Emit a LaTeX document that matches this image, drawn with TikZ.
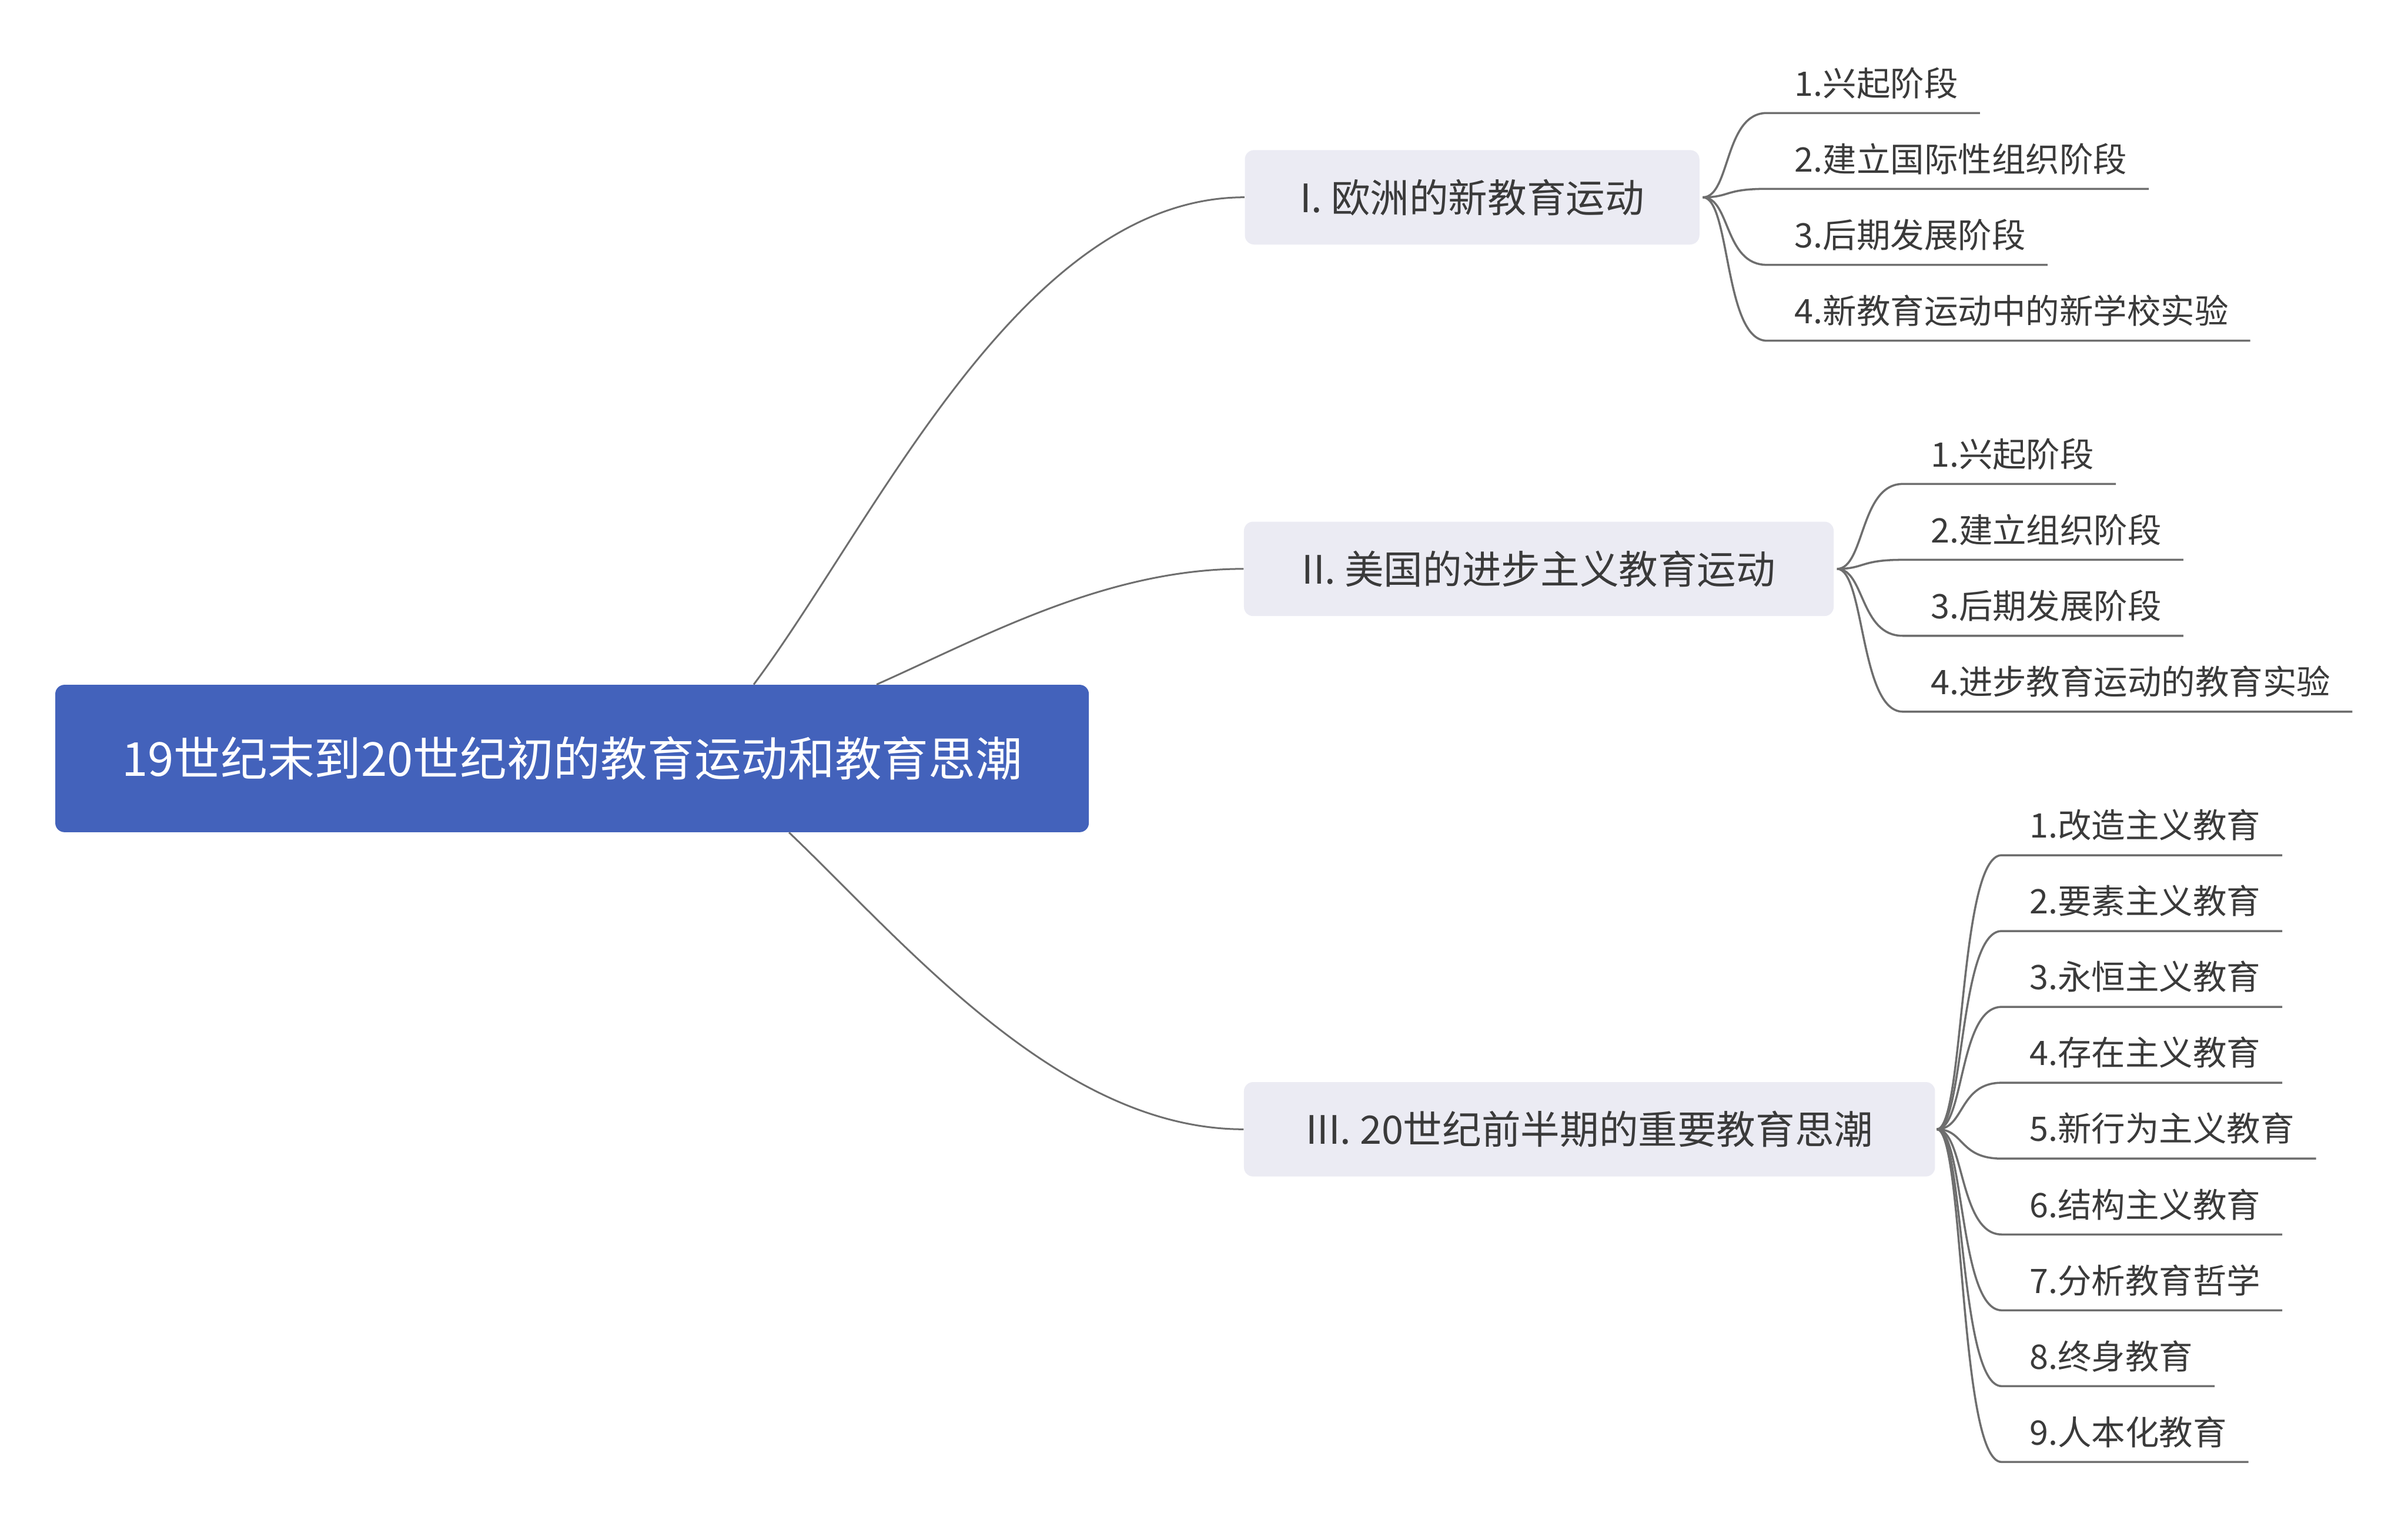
\documentclass[tikz,border=0pt]{standalone}
\usepackage{fontspec}
\setmainfont{Noto Sans CJK SC}
\usetikzlibrary{calc}
\definecolor{rootblue}{RGB}{67,98,187}
\definecolor{branchgray}{RGB}{235,235,243}
\definecolor{linegray}{RGB}{110,110,110}
\definecolor{txtdark}{RGB}{58,58,58}
\newcommand\mmleaf[5]{%
  \coordinate (#4c) at (#3-18,#2);
  \node[leafnode] (#4) at (#3,#2-11.2) {#5};
  \draw[leafline] (#1) .. controls +(18,0) and +(-28,0) .. (#4c) -- ($(#4.east |- #4c)+(14,0)$);
}
\begin{document}
\begin{tikzpicture}[x=1pt,y=-1pt,
  rootnode/.style={rectangle, rounded corners=6pt, fill=rootblue, text=white,
    minimum width=673pt, minimum height=96pt, inner sep=0pt,
    font=\fontsize{30.5}{36}\selectfont},
  branchnode/.style={rectangle, rounded corners=6pt, fill=branchgray, text=txtdark,
    minimum height=61.5pt, inner sep=0pt, font=\fontsize{25.5}{30}\selectfont},
  leafnode/.style={anchor=base west, inner sep=0pt, text=txtdark,
    font=\fontsize{22}{26}\selectfont},
  rootline/.style={draw=linegray, line width=1.15pt},
  leafline/.style={draw=linegray, line width=1.35pt}]
\useasboundingbox (0,0) rectangle (1568,988);

\node[rootnode] (root) at (372.5,494) {19世纪末到20世纪初的教育运动和教育思潮};

\node[branchnode, minimum width=296pt] (b1) at (958.6,128.5) {I. 欧洲的新教育运动};
\node[branchnode, minimum width=384pt] (b2) at (1002,370.5) {II. 美国的进步主义教育运动};
\node[branchnode, minimum width=450pt] (b3) at (1035,735.5) {III. 20世纪前半期的重要教育思潮};

\draw[rootline] ($(root.north west)+(455,0)$) .. controls (570,340) and (665,128.5) .. (b1.west);
\draw[rootline] ($(root.north west)+(535,0)$) .. controls (640,415) and (720,370.5) .. (b2.west);
\draw[rootline] ($(root.south west)+(478,0)$) .. controls (590,615) and (690,735.5) .. (b3.west);

\coordinate (p1) at ($(b1.east)+(2,0)$);
\coordinate (p2) at ($(b2.east)+(2,0)$);
\coordinate (p3) at ($(b3.east)+(1,0)$);

\mmleaf{p1}{73.6}{1168.5}{l11}{1.兴起阶段}
\mmleaf{p1}{123}{1168.5}{l12}{2.建立国际性组织阶段}
\mmleaf{p1}{172.5}{1168.5}{l13}{3.后期发展阶段}
\mmleaf{p1}{221.9}{1168.5}{l14}{4.新教育运动中的新学校实验}

\mmleaf{p2}{315.2}{1257}{l21}{1.兴起阶段}
\mmleaf{p2}{364.6}{1257}{l22}{2.建立组织阶段}
\mmleaf{p2}{414.1}{1257}{l23}{3.后期发展阶段}
\mmleaf{p2}{463.5}{1257}{l24}{4.进步教育运动的教育实验}

\mmleaf{p3}{557}{1321.4}{l31}{1.改造主义教育}
\mmleaf{p3}{606.4}{1321.4}{l32}{2.要素主义教育}
\mmleaf{p3}{655.8}{1321.4}{l33}{3.永恒主义教育}
\mmleaf{p3}{705.2}{1321.4}{l34}{4.存在主义教育}
\mmleaf{p3}{754.6}{1321.4}{l35}{5.新行为主义教育}
\mmleaf{p3}{804}{1321.4}{l36}{6.结构主义教育}
\mmleaf{p3}{853.4}{1321.4}{l37}{7.分析教育哲学}
\mmleaf{p3}{902.8}{1321.4}{l38}{8.终身教育}
\mmleaf{p3}{952.2}{1321.4}{l39}{9.人本化教育}
\end{tikzpicture}
\end{document}
